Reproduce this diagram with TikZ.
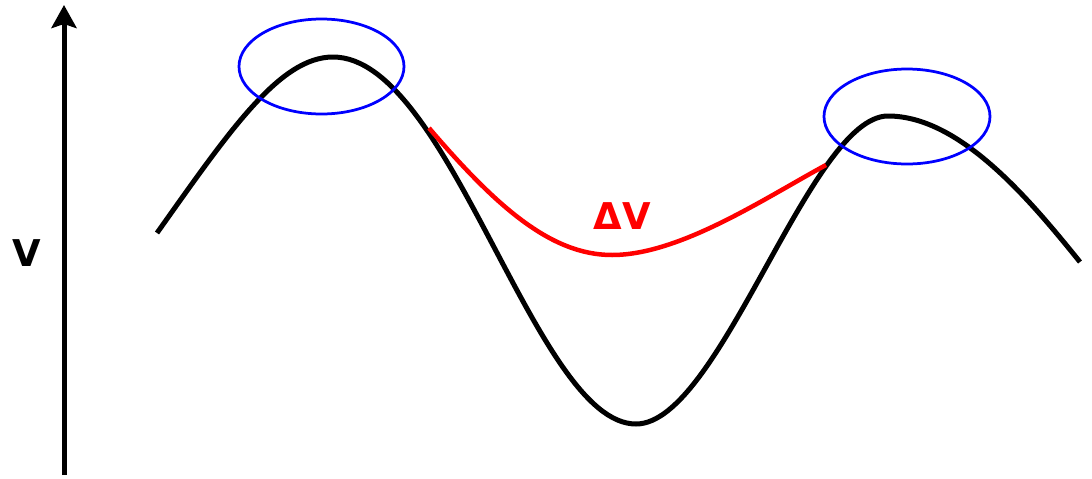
\documentclass[tikz,border=0pt]{standalone}
\usepackage{fontspec}
\setmainfont{DejaVu Sans}
\usepackage{tikz}
\usetikzlibrary{arrows.meta}
\usepackage{xcolor}

\begin{document}
\begin{tikzpicture}[x=0.2mm,y=-0.2mm,
  rotulo/.style={font=\fontsize{21}{25}\selectfont\bfseries}]
\useasboundingbox (0,0) rectangle (1092,478);
% Eixo
\coordinate (base) at (64,475);
\coordinate (topo) at (64,5);
\draw[line width=1mm,-{Stealth[length=4.6mm,width=5mm,inset=0.8mm]}] (base) -- (topo);
\node[rotulo] (v) at (27,253) {V};
% Curva de energia
\draw[line width=1mm] (157,233) .. controls (230,130) and (280,57) .. (333,57) % primeiro pico
  .. controls (450,57) and (535,424) .. (636,424) % vale
  .. controls (720,424) and (810,116) .. (888,116) % segundo pico
  .. controls (960,116) and (1030,200) .. (1080,262);
% Caminho alternativo
\draw[red,line width=0.9mm] (429,128) .. controls (495,205) and (550,255) .. (612,255)
  .. controls (680,255) and (765,198) .. (826,165);
\node[rotulo,red] (dv) at (622,216) {ΔV};
% Picos
\draw[blue,line width=0.55mm] (321.5,66.5) ellipse (82.5 and 47.5);
\draw[blue,line width=0.55mm] (907,116.5) ellipse (83 and 47.5);
\end{tikzpicture}
\end{document}
